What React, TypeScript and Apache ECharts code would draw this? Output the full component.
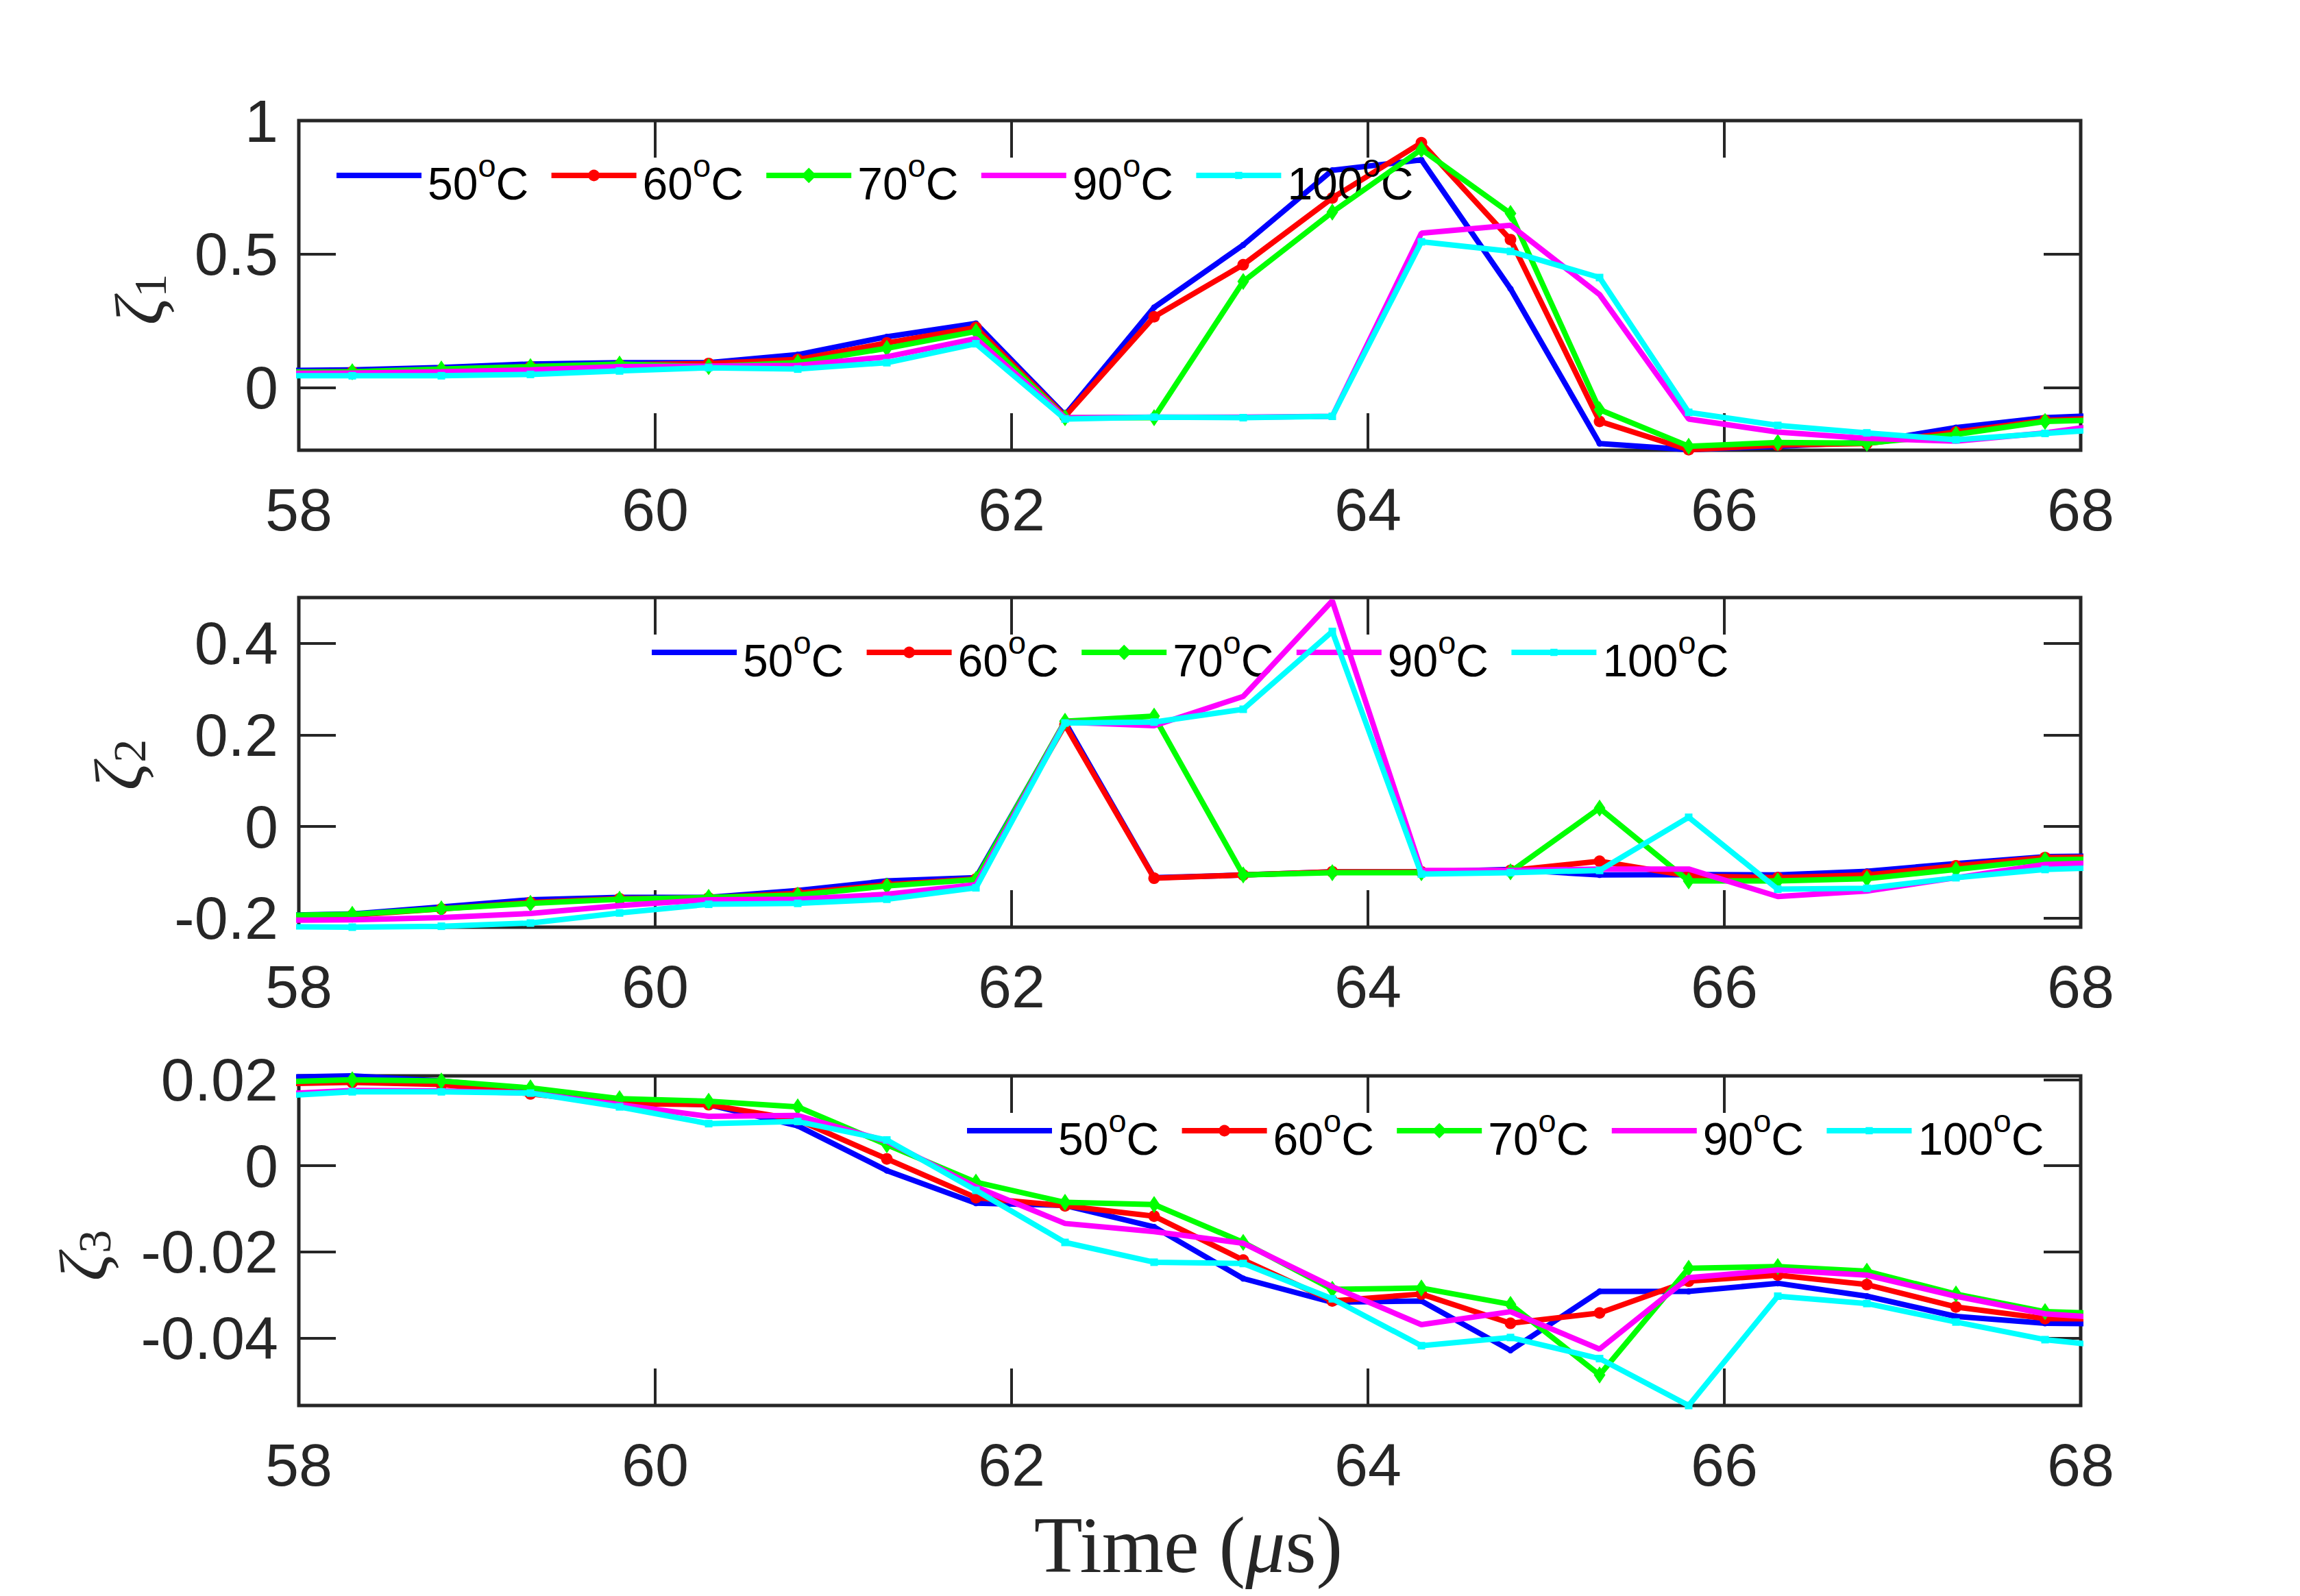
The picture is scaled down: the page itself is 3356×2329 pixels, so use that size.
import React, { useEffect, useRef } from 'react';
import * as echarts from 'echarts';

// ---------------- data ----------------
const TIME_US = [57.8, 58.3, 58.8, 59.3, 59.8, 60.3, 60.8, 61.3, 61.8, 62.3, 62.8, 63.3, 63.8, 64.3, 64.8, 65.3, 65.8, 66.3, 66.8, 67.3, 67.8, 68.3];
const TEMPS = ['50°C', '60°C', '70°C', '90°C', '100°C'];
const X_TICKS = [58, 60, 62, 64, 66, 68];

const Z1_T50 = [0.063, 0.066, 0.075, 0.088, 0.093, 0.093, 0.123, 0.19, 0.24, -0.103, 0.3, 0.534, 0.814, 0.853, 0.37, -0.21, -0.233, -0.22, -0.205, -0.15, -0.113, -0.1];
const Z1_T60 = [0.057, 0.059, 0.066, 0.078, 0.085, 0.09, 0.105, 0.167, 0.225, -0.108, 0.265, 0.46, 0.71, 0.917, 0.554, -0.127, -0.233, -0.216, -0.21, -0.167, -0.123, -0.11];
const Z1_T70 = [0.058, 0.059, 0.069, 0.078, 0.088, 0.078, 0.093, 0.147, 0.21, -0.113, -0.113, 0.397, 0.657, 0.892, 0.652, -0.083, -0.22, -0.206, -0.209, -0.176, -0.127, -0.118];
const Z1_T90 = [0.053, 0.054, 0.059, 0.066, 0.078, 0.08, 0.083, 0.115, 0.183, -0.113, -0.111, -0.111, -0.108, 0.578, 0.608, 0.348, -0.118, -0.167, -0.191, -0.201, -0.17, -0.125];
const Z1_T100 = [0.044, 0.044, 0.044, 0.049, 0.062, 0.074, 0.069, 0.093, 0.164, -0.118, -0.111, -0.113, -0.108, 0.546, 0.51, 0.412, -0.093, -0.142, -0.17, -0.196, -0.172, -0.15];

const Z2_T50 = [-0.195, -0.191, -0.176, -0.16, -0.155, -0.155, -0.14, -0.119, -0.112, 0.228, -0.112, -0.106, -0.099, -0.099, -0.094, -0.106, -0.105, -0.106, -0.098, -0.081, -0.066, -0.064];
const Z2_T60 = [-0.197, -0.194, -0.18, -0.166, -0.158, -0.156, -0.146, -0.127, -0.115, 0.222, -0.113, -0.106, -0.099, -0.099, -0.096, -0.076, -0.108, -0.112, -0.106, -0.086, -0.068, -0.066];
const Z2_T70 = [-0.195, -0.192, -0.18, -0.168, -0.159, -0.155, -0.15, -0.13, -0.116, 0.23, 0.241, -0.106, -0.101, -0.101, -0.099, 0.04, -0.119, -0.119, -0.114, -0.094, -0.073, -0.07];
const Z2_T90 = [-0.205, -0.204, -0.199, -0.19, -0.173, -0.16, -0.159, -0.148, -0.127, 0.228, 0.22, 0.284, 0.493, -0.096, -0.096, -0.093, -0.093, -0.153, -0.141, -0.112, -0.083, -0.077];
const Z2_T100 = [-0.219, -0.22, -0.218, -0.211, -0.189, -0.17, -0.168, -0.159, -0.134, 0.226, 0.228, 0.256, 0.426, -0.104, -0.101, -0.096, 0.02, -0.137, -0.135, -0.112, -0.094, -0.088];

const Z3_T50 = [0.0205, 0.0209, 0.0197, 0.0178, 0.0148, 0.0142, 0.0093, -0.0011, -0.0087, -0.0092, -0.0142, -0.0262, -0.0317, -0.0314, -0.0429, -0.0292, -0.0292, -0.0273, -0.0303, -0.035, -0.0366, -0.0368];
const Z3_T60 = [0.019, 0.0194, 0.0189, 0.0167, 0.0145, 0.0142, 0.0107, 0.0016, -0.0074, -0.0093, -0.0117, -0.0219, -0.0314, -0.0298, -0.0366, -0.0342, -0.0268, -0.0254, -0.0276, -0.0328, -0.0355, -0.0356];
const Z3_T70 = [0.0194, 0.02, 0.0197, 0.0181, 0.0156, 0.015, 0.0137, 0.0049, -0.0038, -0.0085, -0.009, -0.0178, -0.0287, -0.0284, -0.0322, -0.0486, -0.0238, -0.0234, -0.0245, -0.0298, -0.0339, -0.0345];
const Z3_T90 = [0.0165, 0.0175, 0.0174, 0.0169, 0.0142, 0.0115, 0.0117, 0.0057, -0.0049, -0.0134, -0.0153, -0.018, -0.0281, -0.0369, -0.0339, -0.0426, -0.026, -0.0242, -0.0254, -0.0303, -0.0344, -0.0358];
const Z3_T100 = [0.016, 0.0172, 0.0172, 0.0169, 0.0137, 0.0098, 0.0103, 0.006, -0.0057, -0.0178, -0.0224, -0.0227, -0.0309, -0.0418, -0.0399, -0.0448, -0.0557, -0.0303, -0.032, -0.0363, -0.0404, -0.0425];

const Y_RANGES = [
  { min: -0.235, max: 1, step: 0.5 },
  { min: -0.22, max: 0.5, step: 0.2 },
  { min: -0.0557, max: 0.0209, step: 0.02 },
];
const PANEL_SERIES = [
  [Z1_T50, Z1_T60, Z1_T70, Z1_T90, Z1_T100],
  [Z2_T50, Z2_T60, Z2_T70, Z2_T90, Z2_T100],
  [Z3_T50, Z3_T60, Z3_T70, Z3_T90, Z3_T100],
];

// ---------------- styles / layout ----------------
const W = 3356;
const H = 2329;
const GRID_LEFT = 436;
const GRID_W = 2600;
const GRID_H = 481;
const PANEL_TOPS = [176, 872, 1570];
const LEGEND_LEFTS = [487, 947, 1407];
const LEGEND_STEP = 313.6;
const AXIS_COLOR = '#262626';
const SANS = '"Liberation Sans", Arial, Helvetica, sans-serif';
const SERIF = '"Liberation Serif", "Times New Roman", serif';
const COLORS = ['#0000ff', '#ff0000', '#00ff00', '#ff00ff', '#00ffff'];
const SYMBOLS = ['circle', 'circle', 'diamond', 'none', 'rect'];
const SYMBOL_SIZES: any[] = [9, 17, [17, 25], 0, 11];
const LEGEND_ITEM_H = [10, 21, 28, 2, 13];
const LINE_W = 8;

function buildOption() {
  const grid: any[] = [];
  const xAxis: any[] = [];
  const yAxis: any[] = [];
  const series: any[] = [];
  const legend: any[] = [];

  PANEL_TOPS.forEach((top, k) => {
    grid.push({
      left: GRID_LEFT, top, width: GRID_W, height: GRID_H,
      show: true, borderColor: AXIS_COLOR, borderWidth: 5,
      backgroundColor: 'transparent', containLabel: false,
    });
    const tick = { show: true, inside: true, length: 54, lineStyle: { color: AXIS_COLOR, width: 4 } };
    ['bottom', 'top'].forEach((pos) => {
      xAxis.push({
        type: 'value', gridIndex: k, position: pos,
        min: X_TICKS[0], max: X_TICKS[X_TICKS.length - 1], minInterval: 2, maxInterval: 2,
        axisLine: { show: false, onZero: false },
        axisTick: tick,
        splitLine: { show: false },
        axisLabel: {
          show: pos === 'bottom', fontSize: 88, color: AXIS_COLOR, fontFamily: SANS, margin: 42,
        },
      });
    });
    const r = Y_RANGES[k];
    ['left', 'right'].forEach((pos) => {
      yAxis.push({
        type: 'value', gridIndex: k, position: pos,
        min: r.min, max: r.max, minInterval: r.step, maxInterval: r.step,
        axisLine: { show: false, onZero: false },
        axisTick: tick,
        splitLine: { show: false },
        axisLabel: {
          show: pos === 'left', fontSize: 88, color: AXIS_COLOR, fontFamily: SANS, margin: 30,
          showMinLabel: false, showMaxLabel: k === 0,
        },
      });
    });

    PANEL_SERIES[k].forEach((vals, i) => {
      series.push({
        type: 'line', name: TEMPS[i],
        xAxisIndex: 2 * k, yAxisIndex: 2 * k,
        data: TIME_US.map((t, j) => [t, vals[j]]),
        symbol: SYMBOLS[i], symbolSize: SYMBOL_SIZES[i],
        showSymbol: SYMBOLS[i] !== 'none',
        clip: true,
        lineStyle: { color: COLORS[i], width: LINE_W },
        itemStyle: { color: COLORS[i] },
        emphasis: { disabled: true },
        z: 2 + i,
      });
      legend.push({
        data: [TEMPS[i]],
        left: LEGEND_LEFTS[k] + i * LEGEND_STEP,
        top: top + 42,
        padding: 0, itemGap: 0,
        itemWidth: 124, itemHeight: LEGEND_ITEM_H[i],
        selectedMode: false,
        lineStyle: { width: LINE_W },
        formatter: (name: string) => `{n|${name.replace('°C', '')}}{o|o}{n|C}`,
        textStyle: {
          color: '#000', fontFamily: SANS, fontSize: 66,
          padding: [24, 0, 0, 4],
          rich: {
            n: { fontSize: 66, lineHeight: 66, color: '#000', fontFamily: SANS },
            o: { fontSize: 47, height: 13, lineHeight: 13, verticalAlign: 'top', color: '#000', fontFamily: SANS },
          },
        },
      });
    });
  });

  const yLabelPos = [[203, 437], [173, 1116], [122, 1832]];
  const graphic: any[] = yLabelPos.map(([x, y], k) => ({
    type: 'text', x, y, rotation: Math.PI / 2,
    style: {
      text: `{z|ζ}{s|${k + 1}}`,
      align: 'center', verticalAlign: 'middle', textAlign: 'center', textVerticalAlign: 'middle',
      fill: AXIS_COLOR,
      rich: {
        z: { fontFamily: SERIF, fontStyle: 'italic', fontSize: 100, lineHeight: 100, fill: AXIS_COLOR, color: AXIS_COLOR },
        s: { fontFamily: SERIF, fontSize: 68, lineHeight: 60, verticalAlign: 'bottom', fill: AXIS_COLOR, color: AXIS_COLOR },
      },
    },
  }));
  graphic.push({
    type: 'text', x: 1734, y: 2255,
    style: {
      text: '{r|Time (}{m|μ}{r|s)}',
      align: 'center', verticalAlign: 'middle', textAlign: 'center', textVerticalAlign: 'middle',
      fill: AXIS_COLOR,
      rich: {
        r: { fontFamily: SERIF, fontSize: 116, fill: AXIS_COLOR, color: AXIS_COLOR },
        m: { fontFamily: SERIF, fontStyle: 'italic', fontSize: 116, fill: AXIS_COLOR, color: AXIS_COLOR },
      },
    },
  });

  return {
    animation: false,
    backgroundColor: '#ffffff',
    grid, xAxis, yAxis, series, legend, graphic,
  };
}

export default function App() {
  const ref = useRef<HTMLDivElement>(null);
  useEffect(() => {
    if (!ref.current) return;
    const chart = echarts.init(ref.current, null, { renderer: 'svg', width: W, height: H });
    chart.setOption(buildOption());
    return () => chart.dispose();
  }, []);
  return (
    <div
      ref={ref}
      style={{ position: 'fixed', left: 0, top: 0, width: W, height: H, background: '#fff' }}
    />
  );
}
